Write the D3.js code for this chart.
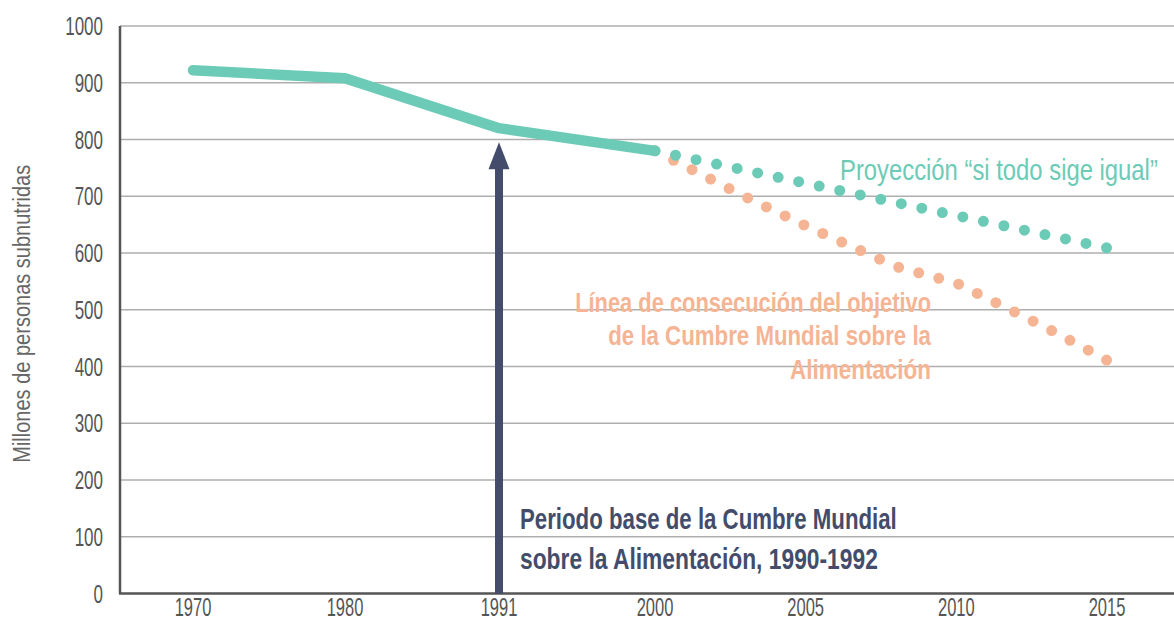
<!DOCTYPE html>
<html>
<head>
<meta charset="utf-8">
<script src="https://cdn.jsdelivr.net/npm/d3@7/dist/d3.min.js"></script>
<style>
  body { margin: 0; background: #fff; }
  svg text { font-family: "Liberation Sans", Arial, sans-serif; }
</style>
</head>
<body>
<svg id="chart" width="1174" height="621"></svg>
<script>

// historical series (millions of undernourished people)
var hist_years = [1970, 1980, 1991, 2000];
var hist_values = [922, 908, 820, 780];

// projection "si todo sige igual"
var proj_years = [2000, 2015];
var proj_values = [780, 609];

// summit target line
var goal_years = [2000, 2003, 2005, 2008, 2010, 2013, 2015];
var goal_values = [780, 699, 648, 576, 547, 468, 411];

var x_ticks = [1970, 1980, 1991, 2000, 2005, 2010, 2015];
var y_ticks = [0, 100, 200, 300, 400, 500, 600, 700, 800, 900, 1000];

var arrow_year = 1991, arrow_top = 795;

var green = "#6ccbb6", orange = "#f5b594", navy = "#434c6b";

function draw_chart(){

    var svg = d3.select("#chart");
    var left = 120, right = 1174;

    // x axis is not linear in time: 1970..2000 spaced per label, then 5-year steps
    var x = d3.scaleLinear()
        .domain([1970, 1980, 1991, 2000, 2015])
        .range([193, 345, 499, 655, 1107]);
    var y = d3.scaleLinear().domain([0, 1000]).range([593.5, 26]);

    // squeeze text into a condensed look
    function squeeze(sel, k){
        sel.each(function(){
            var w = this.getComputedTextLength();
            d3.select(this).attr("textLength", w * k).attr("lengthAdjust", "spacingAndGlyphs");
        });
    }

    // gridlines
    svg.append("g").selectAll("line")
        .data(y_ticks.filter(function(d){ return d > 0; }))
        .enter().append("line")
        .attr("x1", left).attr("x2", right)
        .attr("y1", function(d){ return y(d); })
        .attr("y2", function(d){ return y(d); })
        .style("stroke", "#aeaeae")
        .style("stroke-width", 1.5);

    // y tick labels
    var ylab = svg.append("g").selectAll("text")
        .data(y_ticks).enter().append("text")
        .attr("x", 103)
        .attr("y", function(d){ return y(d); })
        .attr("dy", ".36em")
        .attr("text-anchor", "end")
        .style("font-size", "25px")
        .style("fill", "#555")
        .text(function(d){ return d; });
    squeeze(ylab, 0.68);

    // x tick labels
    var xlab = svg.append("g").selectAll("text")
        .data(x_ticks).enter().append("text")
        .attr("x", function(d){ return x(d); })
        .attr("y", 616)
        .attr("text-anchor", "middle")
        .style("font-size", "25px")
        .style("fill", "#555")
        .text(function(d){ return d; });
    squeeze(xlab, 0.66);

    // y axis title
    svg.append("text")
        .attr("transform", "translate(30," + ((y(0) + y(1000)) / 2 + 4) + ") rotate(-90)")
        .attr("text-anchor", "middle")
        .attr("textLength", 298)
        .attr("lengthAdjust", "spacingAndGlyphs")
        .style("font-size", "23px")
        .style("fill", "#666")
        .text("Millones de personas subnutridas");

    // axes lines
    svg.append("line").attr("x1", left).attr("x2", left).attr("y1", y(1000)).attr("y2", y(0))
        .style("stroke", "#555").style("stroke-width", 2.5);
    svg.append("line").attr("x1", left - 1).attr("x2", right).attr("y1", y(0)).attr("y2", y(0))
        .style("stroke", "#555").style("stroke-width", 2.5);

    // arrow for base period
    var ax = x(arrow_year), atop = y(arrow_top);
    svg.append("rect")
        .attr("x", ax - 4).attr("width", 8)
        .attr("y", atop + 20).attr("height", y(0) - atop - 20)
        .style("fill", navy);
    svg.append("path")
        .attr("d", "M" + ax + "," + atop + " L" + (ax + 10.5) + "," + (atop + 27) +
                   " L" + (ax - 10.5) + "," + (atop + 27) + " Z")
        .style("fill", navy);

    var line = d3.line()
        .x(function(d){ return x(d[0]); })
        .y(function(d){ return y(d[1]); });

    // dotted line whose dots land on both ends
    function dotted(years, values, color, step){
        var p = svg.append("path")
            .datum(d3.zip(years, values))
            .attr("d", line)
            .style("fill", "none")
            .style("stroke", color)
            .style("stroke-width", 11)
            .style("stroke-linecap", "round");
        var len = p.node().getTotalLength();
        var n = Math.round(len / step);
        var gap = (len - 0.5) / n;
        p.style("stroke-dasharray", "0," + gap);
    }

    dotted(goal_years, goal_values, orange, 20.5);
    dotted(proj_years, proj_values, green, 21);

    // historical line
    svg.append("path")
        .datum(d3.zip(hist_years, hist_values))
        .attr("d", line)
        .style("fill", "none")
        .style("stroke", green)
        .style("stroke-width", 10.5)
        .style("stroke-linecap", "round")
        .style("stroke-linejoin", "round");

    // annotations, scaled horizontally to the wanted width
    function label(txt, xx, yy, len, size, weight, color, anchor){
        var t = svg.append("text")
            .attr("text-anchor", anchor)
            .style("font-size", size + "px")
            .style("font-weight", weight)
            .style("fill", color)
            .text(txt);
        var k = len / t.node().getComputedTextLength();
        t.attr("transform", "translate(" + xx + "," + yy + ") scale(" + k + ",1)");
    }

    label("Proyección \u201csi todo sige igual\u201d", 840, 180, 318, 29, "normal", green, "start");

    label("Línea de consecución del objetivo", 931, 312, 356, 28, "bold", orange, "end");
    label("de la Cumbre Mundial sobre la", 931, 345, 323, 28, "bold", orange, "end");
    label("Alimentación", 931, 379, 141, 28, "bold", orange, "end");

    label("Periodo base de la Cumbre Mundial", 520, 529, 377, 29, "bold", navy, "start");
    label("sobre la Alimentación, 1990-1992", 520, 569, 358, 29, "bold", navy, "start");
}

draw_chart();
</script>
</body>
</html>
